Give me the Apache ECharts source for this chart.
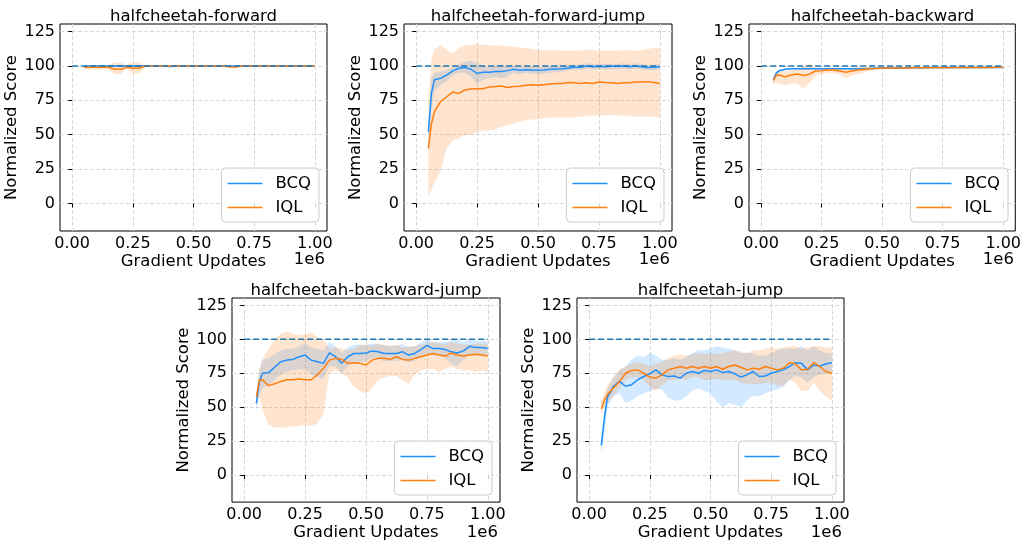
<!DOCTYPE html>
<html>
<head>
<meta charset="utf-8">
<script src="https://cdn.jsdelivr.net/npm/echarts@6/dist/echarts.min.js"></script>
<style>
  html, body { margin: 0; padding: 0; background: #fff; }
  #chart { width: 1024px; height: 542px; }
</style>
</head>
<body>
<div id="chart"></div>
<script>
// x positions in units of 1e6 gradient updates
const steps = [0.05, 0.0625, 0.075, 0.1, 0.125, 0.15, 0.175, 0.2, 0.225, 0.25,
  0.275, 0.3, 0.325, 0.35, 0.375, 0.4, 0.425, 0.45, 0.475, 0.5,
  0.525, 0.55, 0.575, 0.6, 0.625, 0.65, 0.675, 0.7, 0.725, 0.75,
  0.775, 0.8, 0.825, 0.85, 0.875, 0.9, 0.925, 0.95, 0.975, 1.0];
const xTicks = [0, 0.25, 0.5, 0.75, 1.0];
const yTicks = [0, 25, 50, 75, 100, 125];
const refX = [0, 1.0];
const refY = 100;
const titles = ['halfcheetah-forward', 'halfcheetah-forward-jump', 'halfcheetah-backward',
  'halfcheetah-backward-jump', 'halfcheetah-jump'];
const methods = ['BCQ', 'IQL'];

// halfcheetah-forward
const fwdBcq = [99.8, 99.9, 100, 100, 100, 100, 100, 100, 100, 100,
  100, 100, 100, 100, 100, 99.6, 99.7, 100, 100, 100,
  100, 100, 100, 100, 100, 100, 100, 100, 100, 100,
  100, 100, 100, 100, 100, 100, 100, 100, 100, 100];
const fwdBcqLo = [99.3, 99.4, 99.6, 99.6, 99.6, 99.6, 99.6, 99.6, 99.6, 99.6,
  99.6, 99.6, 99.6, 99.6, 99.6, 99.1, 99.2, 99.6, 99.6, 99.6,
  99.6, 99.6, 99.6, 99.6, 99.6, 99.6, 99.6, 99.6, 99.6, 99.6,
  99.6, 99.6, 99.6, 99.6, 99.6, 99.6, 99.6, 99.6, 99.6, 99.6];
const fwdBcqHi = [100.2, 100.3, 100.3, 100.3, 100.3, 100.3, 100.3, 100.3, 100.3, 100.3,
  100.3, 100.3, 100.3, 100.3, 100.3, 100.1, 100.1, 100.3, 100.3, 100.3,
  100.3, 100.3, 100.3, 100.3, 100.3, 100.3, 100.3, 100.3, 100.3, 100.3,
  100.3, 100.3, 100.3, 100.3, 100.3, 100.3, 100.3, 100.3, 100.3, 100.3];
const fwdIql = [99, 99, 99, 99, 99, 99, 97.6, 97.6, 99, 98.3,
  98.3, 99.8, 100, 100, 100, 100, 100, 100, 100, 100,
  100, 100, 100, 100, 100, 99.3, 99.3, 100, 100, 100,
  100, 100, 100, 100, 100, 100, 100, 100, 100, 100];
const fwdIqlLo = [97.5, 97.5, 97.5, 97.5, 97.5, 97.5, 94, 94, 98, 94.5,
  94.5, 99, 99.6, 99.6, 99.6, 99.6, 99.6, 99.6, 99.6, 99.6,
  99.6, 99.6, 99.6, 99.6, 99.6, 98.8, 98.8, 99.6, 99.6, 99.6,
  99.6, 99.6, 99.6, 99.6, 99.6, 99.6, 99.6, 99.6, 99.6, 99.6];
const fwdIqlHi = [100.5, 100.5, 100.5, 100.5, 100.5, 100.5, 102.5, 102.5, 100.5, 102.5,
  102.5, 100.5, 100.3, 100.3, 100.3, 100.3, 100.3, 100.3, 100.3, 100.3,
  100.3, 100.3, 100.3, 100.3, 100.3, 100, 100, 100.3, 100.3, 100.3,
  100.3, 100.3, 100.3, 100.3, 100.3, 100.3, 100.3, 100.3, 100.3, 100.3];

// halfcheetah-forward-jump
const fjBcq = [52, 80, 90, 91, 93.4, 96.4, 98.3, 98.8, 97.6, 94.6,
  95.4, 95.4, 96, 95.9, 96.6, 97.6, 96.8, 97.3, 97, 96.8,
  97, 97.6, 97.8, 98, 98.5, 99, 99, 100, 99.5, 99.7,
  99.5, 99.7, 99.7, 100, 99.5, 100, 99.5, 98.8, 99, 99.5];
const fjBcqLo = [38, 68, 82, 86, 89, 93, 95, 95, 92, 87,
  90, 91, 92, 91, 92, 95, 94, 95, 94.5, 94,
  94.5, 95, 95.5, 96, 96.5, 97, 97, 98, 97.5, 97.5,
  97.5, 97.5, 97.5, 98, 97.5, 98, 97.5, 97, 97, 97.5];
const fjBcqHi = [60, 92, 95, 96, 97, 99, 101, 103, 104, 102,
  100, 99, 100, 101, 100, 100, 99.5, 99.5, 99.5, 99,
  99.5, 100, 100, 100.5, 100.5, 101, 101, 102, 101.5, 101.5,
  101.5, 101.5, 101.5, 102, 101.5, 102, 101.5, 100.5, 101, 101.5];
const fjIql = [40, 58, 66.7, 74, 77.6, 81, 80, 82.5, 83.2, 83.5,
  83.5, 84.7, 85, 85.4, 84.4, 85, 85.2, 86, 86.4, 85.9,
  86.4, 86.9, 87.3, 87.3, 88, 87.8, 87.3, 87.8, 87.3, 88.3,
  88, 87.8, 87.3, 87.8, 87.8, 88.3, 88.3, 88.6, 88, 87.3];
const fjIqlLo = [5, 10, 15, 24, 40, 46, 47, 49.6, 50, 52,
  52.5, 53, 54, 55.7, 57, 58, 59.5, 60.6, 61, 61,
  62, 62.5, 62.5, 62.5, 62.5, 62.5, 63, 63.5, 64, 64,
  64, 64.5, 64, 64, 63.5, 63, 63, 63, 63, 62.5];
const fjIqlHi = [75, 105, 112, 115, 112, 109, 113, 115, 115.5, 116,
  115.5, 115, 115, 114.6, 114.5, 114, 113.5, 113, 112.5, 111.7,
  111.5, 111.7, 111.5, 111, 111, 111, 111.2, 111.7, 111.5, 111,
  111, 111, 111, 111.5, 111.5, 111, 111.5, 112.4, 113, 113.6];

// halfcheetah-backward
const bwBcq = [89.8, 94.6, 96.6, 97.6, 97.9, 98, 98, 98, 98, 98,
  98, 98, 98, 98, 98, 98, 98, 98.2, 98.3, 98.4,
  98.5, 98.5, 98.6, 98.6, 98.7, 98.7, 98.7, 98.8, 98.8, 98.8,
  98.8, 98.8, 98.9, 98.9, 98.9, 98.9, 98.9, 98.9, 98.9, 98.9];
const bwBcqLo = [88.3, 93.3, 95.6, 96.9, 97.3, 97.4, 97.4, 97.4, 97.4, 97.4,
  97.4, 97.4, 97.4, 97.4, 97.4, 97.4, 97.4, 97.6, 97.7, 97.8,
  97.9, 97.9, 98, 98, 98.1, 98.1, 98.1, 98.2, 98.2, 98.2,
  98.2, 98.2, 98.3, 98.3, 98.3, 98.3, 98.3, 98.3, 98.3, 98.3];
const bwBcqHi = [91.3, 95.9, 97.6, 98.3, 98.5, 98.6, 98.6, 98.6, 98.6, 98.6,
  98.6, 98.6, 98.6, 98.6, 98.6, 98.6, 98.6, 98.8, 98.9, 99,
  99.1, 99.1, 99.2, 99.2, 99.3, 99.3, 99.3, 99.4, 99.4, 99.4,
  99.4, 99.4, 99.5, 99.5, 99.5, 99.5, 99.5, 99.5, 99.5, 99.5];
const bwIql = [89.5, 93, 93.4, 92.2, 93.4, 94.2, 93, 94, 96.4, 96.6,
  97, 97, 96.4, 95.4, 96.4, 97, 97.6, 98, 98.2, 98.5,
  98.6, 98.6, 98.6, 98.6, 98.7, 98.7, 98.7, 98.7, 98.8, 98.7,
  98.7, 98.8, 98.8, 98.8, 98.9, 98.9, 98.9, 98.9, 99, 99];
const bwIqlLo = [86, 88, 87, 86, 87, 87, 83, 88, 93, 94,
  95, 95, 94, 91, 93, 94, 95.5, 96.5, 97.3, 98,
  98, 98, 98, 98.1, 98.2, 98.2, 98.2, 98.2, 98.3, 98.2,
  98.2, 98.3, 98.3, 98.3, 98.4, 98.4, 98.4, 98.4, 98.5, 98.5];
const bwIqlHi = [93, 96, 97, 96, 97, 97, 100, 102, 98.5, 98.5,
  98.8, 98.8, 98.5, 98, 98.3, 99, 99.3, 99.4, 99.2, 99.2,
  99.2, 99.2, 99.2, 99.2, 99.3, 99.3, 99.3, 99.3, 99.3, 99.3,
  99.3, 99.3, 99.3, 99.3, 99.4, 99.4, 99.4, 99.4, 99.4, 99.4];

// halfcheetah-backward-jump
const bjBcq = [52.8, 69, 75, 75.5, 79.4, 83.5, 84.7, 85.2, 87.2, 88.4,
  84.7, 83.5, 82.3, 90, 87.2, 82.3, 87.2, 89.6, 89.6, 90,
  91.5, 90.8, 89.6, 89.6, 89.6, 90.8, 88.4, 89.6, 92.5, 95.6,
  93.2, 93.2, 92.5, 90.8, 90, 91.5, 94.9, 94, 94, 93.2];
const bjBcqLo = [47, 60, 64, 66, 70, 74, 76, 77, 78, 78,
  74, 72, 71, 80, 80, 75, 80, 83, 83, 84,
  86, 85, 84, 84, 84, 85, 83, 84, 87, 90,
  88, 88, 86, 82, 80, 85, 89, 89, 89, 88];
const bjBcqHi = [58, 78, 85, 86, 89, 92, 93, 93, 95, 97,
  94, 93, 92, 98, 95, 90, 94, 96, 96, 96,
  97, 96.5, 95.5, 95.5, 95.5, 96.5, 94, 95, 97.5, 100,
  98, 98, 98, 99, 100, 98, 100, 99, 99, 98.5];
const bjIql = [57.6, 70, 70.2, 65.9, 67.3, 69, 70.2, 70.2, 70.7, 70.2,
  70.2, 73.8, 78.7, 84.7, 86, 85.2, 82.3, 82.8, 82.3, 81.1,
  84.7, 86, 86, 85.2, 87.2, 85.2, 84.7, 86, 87.2, 88.4,
  89.6, 88.4, 87.7, 90, 88.4, 87.7, 88.4, 89.1, 88.4, 87.7];
const bjIqlLo = [50, 58, 48, 37, 35, 35, 35, 36, 36, 37,
  36, 38, 45, 75, 77, 75, 72, 65, 62, 60,
  64, 70, 72, 73, 73, 70, 67, 74, 77, 78,
  78, 76, 78, 80, 78, 77, 77, 76, 77, 76];
const bjIqlHi = [62, 78, 85, 93, 100, 104, 106, 104, 103, 104,
  105, 102, 100, 93, 94, 93, 92, 93, 96, 96,
  95, 97, 96, 95, 96, 94, 95, 95, 96, 97,
  98, 97, 96, 98, 97, 96, 96, 97, 97, 97];

// halfcheetah-jump
const jpBcq = [21.8, 41, 57, 65.4, 69, 65.4, 66.6, 70.2, 72.6, 74.6,
  77.5, 73.8, 72.6, 73, 71.4, 75, 76.3, 75, 77, 76.3,
  77.5, 75.5, 76.3, 74.6, 72.2, 73.8, 76.3, 72.6, 73, 75,
  76.3, 77.5, 80, 82.8, 82.3, 77.5, 81, 80.4, 81.8, 82.8];
const jpBcqLo = [14, 30, 50, 58, 60, 53, 55, 58, 60, 62,
  64, 63, 57, 55, 55, 58, 62, 64, 62, 60,
  54, 50, 53, 52, 50, 55, 58, 58, 60, 62,
  63, 65, 70, 73, 72, 68, 72, 74, 75, 76];
const jpBcqHi = [26, 50, 63, 72, 77, 80, 85, 88, 87, 90,
  88, 85, 85, 86, 85, 87, 90, 92, 92, 93,
  95, 94, 93, 92, 90, 90, 90, 88, 88, 90,
  92, 93, 93, 93, 95, 92, 95, 92, 90, 90];
const jpIql = [48.9, 55, 59.3, 64.2, 69, 75, 77, 77.5, 75, 72.2,
  71.4, 73.8, 77.5, 78.7, 80, 78.7, 80, 78.7, 80, 78.7,
  80, 78, 80, 81.1, 79.4, 77.5, 78.7, 78, 80, 78.7,
  77.5, 78.7, 82.8, 81.8, 77.5, 78, 82.8, 80, 76.3, 75];
const jpIqlLo = [45, 50, 53, 58, 64, 70, 72, 72, 70, 65,
  62, 66, 70, 70, 71, 70, 72, 72, 70, 70,
  71, 70, 70, 70, 68, 67, 67, 67, 68, 68,
  66, 66, 70, 68, 62, 62, 68, 62, 58, 55];
const jpIqlHi = [55, 61, 66, 72, 78, 80, 82, 83, 82, 80,
  82, 83, 86, 88, 89, 88, 89, 90, 89, 90,
  89, 90, 91, 92, 91, 90, 92, 92, 93, 94,
  93, 94, 95, 95, 93, 94, 95, 95, 94, 94];

const panelData = [
  [fwdBcq, fwdBcqLo, fwdBcqHi, fwdIql, fwdIqlLo, fwdIqlHi],
  [fjBcq, fjBcqLo, fjBcqHi, fjIql, fjIqlLo, fjIqlHi],
  [bwBcq, bwBcqLo, bwBcqHi, bwIql, bwIqlLo, bwIqlHi],
  [bjBcq, bjBcqLo, bjBcqHi, bjIql, bjIqlLo, bjIqlHi],
  [jpBcq, jpBcqLo, jpBcqHi, jpIql, jpIqlLo, jpIqlHi]
];

// plot boxes (left, top, width, height)
const boxes = [
  [60, 24, 267, 207],
  [404, 24, 268, 207],
  [749, 24, 267, 207],
  [232, 298, 268, 206],
  [577, 298, 267, 206]
];

const FONT = 'DejaVu Sans';
const TICK_SIZE = 16;
const LABEL_SIZE = 16.5;
const blue = '#1e90ff';
const orange = '#ff7f0e';
// thin bar used as legend sample (kept at its own aspect inside the icon box)
const LEGEND_ICON = 'path://M0,0H35V1.5H0Z';

function bandSeries(gi, lo, hi, fill) {
  return {
    type: 'custom', xAxisIndex: gi, yAxisIndex: gi, z: 1, silent: true,
    data: steps.map((s, i) => [s, lo[i], hi[i]]),
    encode: {x: 0, y: [1, 2]},
    renderItem: function (params, api) {
      if (params.dataIndex !== 0) return;
      const pts = [];
      for (let i = 0; i < steps.length; i++) pts.push(api.coord([steps[i], hi[i]]));
      for (let i = steps.length - 1; i >= 0; i--) pts.push(api.coord([steps[i], lo[i]]));
      return {type: 'polygon', shape: {points: pts}, style: {fill: fill}};
    }
  };
}

function lineSeries(gi, name, vals, color) {
  return {
    type: 'line', name: name, xAxisIndex: gi, yAxisIndex: gi, z: 2,
    data: steps.map((s, i) => [s, vals[i]]),
    symbol: 'none', showSymbol: false,
    lineStyle: {color: color, width: 1.5},
    itemStyle: {color: color}
  };
}

const grids = [], xAxes = [], yAxes = [], series = [], legends = [], titleList = [];

boxes.forEach((b, gi) => {
  const [l, t, w, h] = b;
  grids.push({left: l, top: t, width: w, height: h, show: true,
    borderColor: '#000', borderWidth: 1, backgroundColor: 'transparent'});
  xAxes.push({
    type: 'value', gridIndex: gi, min: -0.05, max: 1.05,
    name: 'Gradient Updates', nameLocation: 'middle', nameGap: 20,
    nameTextStyle: {fontSize: LABEL_SIZE, color: '#000', fontFamily: FONT},
    axisLine: {show: false},
    axisTick: {show: true, length: 4, lineStyle: {color: '#000'}, customValues: xTicks},
    axisLabel: {customValues: xTicks, fontSize: TICK_SIZE, color: '#000', fontFamily: FONT, margin: 5,
      formatter: v => v.toFixed(2)},
    splitLine: {show: true, lineStyle: {color: '#d9d9d9', type: [4, 2], width: 1}}
  });
  yAxes.push({
    type: 'value', gridIndex: gi, min: -20, max: 130.5,
    name: 'Normalized Score', nameLocation: 'middle', nameGap: 36,
    nameTextStyle: {fontSize: LABEL_SIZE, color: '#000', fontFamily: FONT},
    axisLine: {show: false},
    axisTick: {show: true, length: 4, lineStyle: {color: '#000'}, customValues: yTicks},
    axisLabel: {customValues: yTicks, fontSize: TICK_SIZE, color: '#000', fontFamily: FONT, margin: 5},
    splitLine: {show: true, lineStyle: {color: '#d9d9d9', type: [4, 2], width: 1}}
  });
  const d = panelData[gi];
  series.push(bandSeries(gi, d[1], d[2], 'rgba(30,144,255,0.2)'));
  series.push(bandSeries(gi, d[4], d[5], 'rgba(255,127,14,0.2)'));
  series.push(lineSeries(gi, methods[0], d[0], blue));
  series.push(lineSeries(gi, methods[1], d[3], orange));
  series.push({
    type: 'line', name: 'ref', xAxisIndex: gi, yAxisIndex: gi, z: 3,
    data: refX.map(x => [x, refY]), symbol: 'none', silent: true,
    lineStyle: {color: '#1f77b4', width: 1.5, type: [6, 3]}
  });
  legends.push({
    data: methods.map(m => ({name: m, icon: LEGEND_ICON})),
    icon: LEGEND_ICON, symbolKeepAspect: true,
    orient: 'vertical',
    right: 1024 - (l + w - 8), bottom: 542 - (t + h - 9),
    itemWidth: 35, itemHeight: 14, itemGap: 7,
    padding: [7, 8, 6, 6],
    itemStyle: {borderWidth: 0},
    backgroundColor: 'rgba(255,255,255,0.8)', borderColor: '#cccccc', borderWidth: 1, borderRadius: 4,
    textStyle: {fontSize: LABEL_SIZE, color: '#000', fontFamily: FONT, padding: [0, 0, 0, 8]},
    selectedMode: false
  });
  titleList.push({
    text: titles[gi], left: l + w / 2, top: t - 16, textAlign: 'center', padding: 0,
    textStyle: {fontSize: LABEL_SIZE, fontWeight: 'normal', color: '#000', fontFamily: FONT}
  });
  titleList.push({
    text: '1e6', left: l + w - 2, top: t + h + 20, textAlign: 'right', padding: 0,
    textStyle: {fontSize: LABEL_SIZE, fontWeight: 'normal', color: '#000', fontFamily: FONT}
  });
});

const chart = echarts.init(document.getElementById('chart'), null, {renderer: 'canvas'});
chart.setOption({
  animation: false,
  backgroundColor: '#fff',
  textStyle: {fontFamily: FONT},
  title: titleList,
  legend: legends,
  grid: grids,
  xAxis: xAxes,
  yAxis: yAxes,
  series: series
});
</script>
</body>
</html>
